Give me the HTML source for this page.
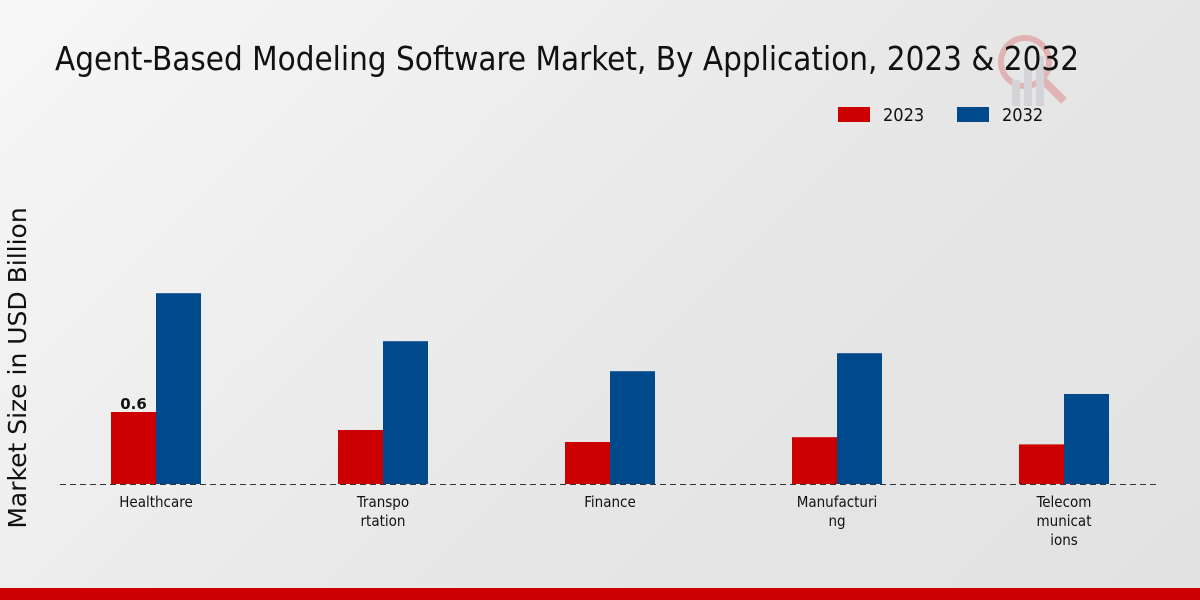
<!DOCTYPE html>
<html><head><meta charset="utf-8"><style>
body{margin:0;width:1200px;height:600px;overflow:hidden;background:linear-gradient(135deg,#f7f7f7 0%,#e6e6e6 60%,#e2e2e2 100%);font-family:"DejaVu Sans Condensed","Liberation Sans Narrow","DejaVu Sans",sans-serif}
</style></head><body>
<svg width="1200" height="600" style="position:absolute;left:0;top:0">
<g>
<circle cx="1025" cy="62" r="24" fill="none" stroke="#e0b4b4" stroke-width="6"/>
<line x1="1043" y1="80" x2="1064" y2="101" stroke="#e0b4b4" stroke-width="8"/>
<rect x="1012" y="80" width="8" height="26" fill="#d4d4d8"/>
<rect x="1024" y="68" width="8" height="38" fill="#d4d4d8"/>
<rect x="1036" y="56" width="8" height="50" fill="#d4d4d8"/>
</g>
<text x="55" y="70" font-size="32.5" textLength="1024" lengthAdjust="spacingAndGlyphs" fill="#111" font-family="DejaVu Sans Condensed, DejaVu Sans, sans-serif">Agent-Based Modeling Software Market, By Application, 2023 &amp; 2032</text>
<g>
<rect x="838" y="107" width="32" height="15" fill="#cc0000"/>
<text x="883" y="121" font-size="18" fill="#111">2023</text>
<rect x="957" y="107" width="32" height="15" fill="#004a8c"/>
<text x="1002" y="121" font-size="18" fill="#111">2032</text>
</g>
<text transform="translate(26,368) rotate(-90)" text-anchor="middle" font-size="25" font-family="DejaVu Sans, sans-serif" fill="#111">Market Size in USD Billion</text>
<line x1="60" y1="484.5" x2="1160" y2="484.5" stroke="#333" stroke-dasharray="6,4" stroke-width="1"/>
<g id="bars"></g>
<rect x="0" y="588" width="1200" height="12" fill="#cc0000"/>
</svg>
<script>
const categories=[["Healthcare"],["Transpo","rtation"],["Finance"],["Manufacturi","ng"],["Telecom","municat","ions"]];
const values2023=[0.6,0.45,0.35,0.39,0.33];
const values2032=[1.59,1.19,0.94,1.09,0.75];
const NS="http://www.w3.org/2000/svg";
const g=document.getElementById('bars');
const baseY=484, scale=120, x0=156, step=227, bw=45;
function y(v){return baseY-v*scale;}
function mk(t,a){const e=document.createElementNS(NS,t);for(const k in a)e.setAttribute(k,a[k]);g.appendChild(e);return e;}
categories.forEach((c,i)=>{
  const cx=x0+i*step;
  const r=mk('rect',{x:cx-bw,y:y(values2023[i]),width:bw,height:values2023[i]*scale,fill:'#cc0000'});
  
  
  const b=mk('rect',{x:cx,y:y(values2032[i]),width:bw,height:values2032[i]*scale,fill:'#004a8c'});
  
  
  c.forEach((ln,j)=>{
    const t=mk('text',{x:cx,y:507+j*19,'text-anchor':'middle','font-size':'15',fill:'#111'});
    t.textContent=ln;
    
    
  });
  if(i===0){
    const v=mk('text',{x:cx-bw/2,y:y(values2023[i])-3,'text-anchor':'middle','font-size':'15','font-weight':'bold',fill:'#111','font-family':'DejaVu Sans, sans-serif'});
    v.textContent=values2023[i];
    
    
  }
});
</script>
</body></html>
